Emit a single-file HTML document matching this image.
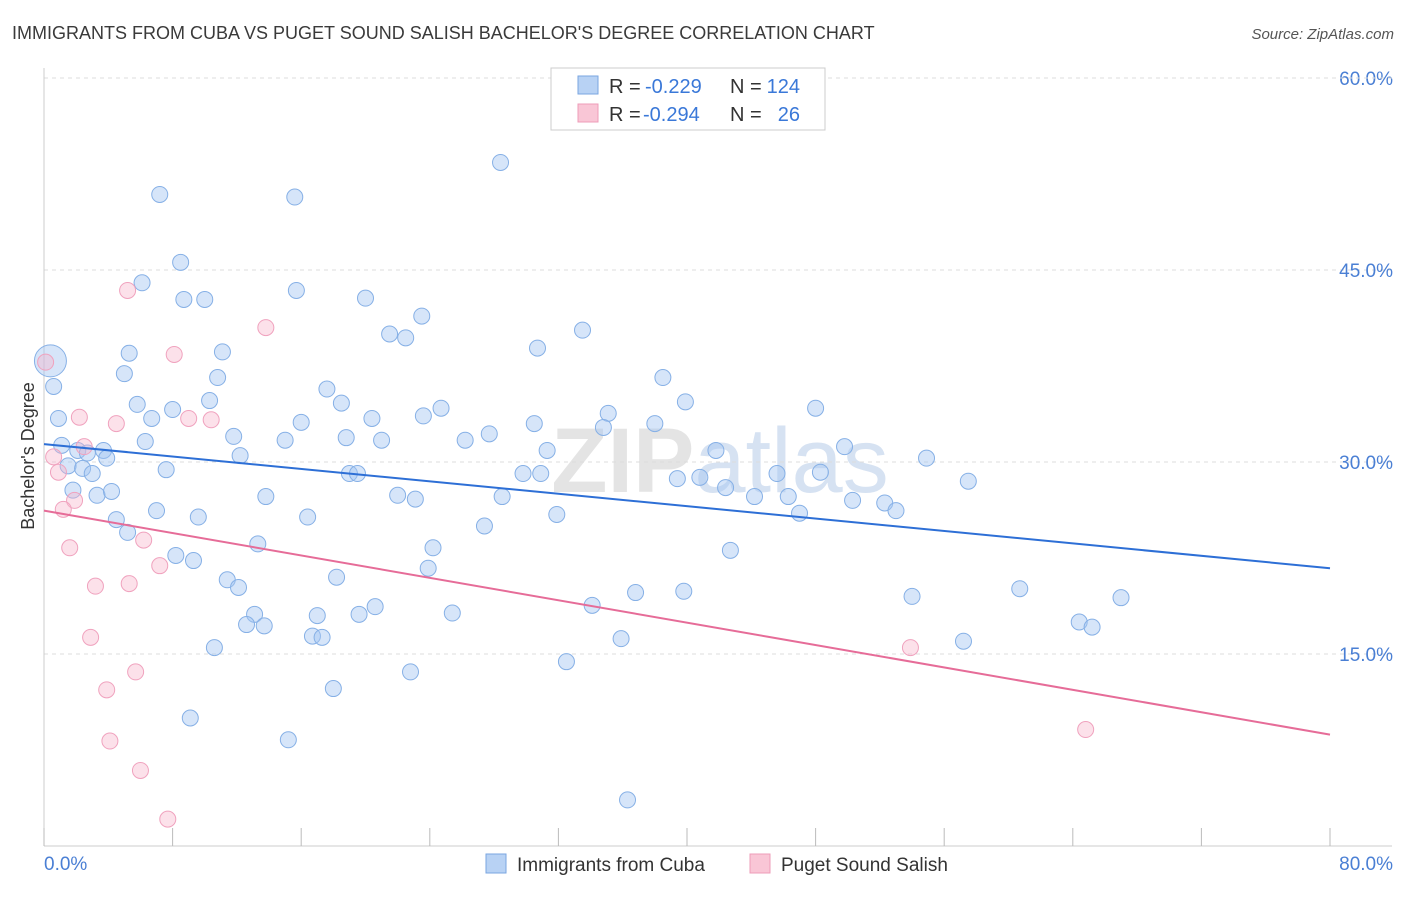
<!DOCTYPE html>
<html><head><meta charset="utf-8"><style>
body{margin:0;background:#fff;font-family:"Liberation Sans",sans-serif;}
svg text{font-family:"Liberation Sans",sans-serif;}
</style></head><body>
<svg id="chart" width="1406" height="892" xmlns="http://www.w3.org/2000/svg">
<text x="12" y="39" font-size="18" fill="#3a3a3a">IMMIGRANTS FROM CUBA VS PUGET SOUND SALISH BACHELOR'S DEGREE CORRELATION CHART</text>
<text x="1394" y="39" font-size="15" fill="#555" font-style="italic" text-anchor="end">Source: ZipAtlas.com</text>
<text x="720" y="492" font-size="92" fill="#e4e4e4" text-anchor="middle" font-weight="bold">ZIP<tspan fill="#d6e2f2" font-weight="normal">atlas</tspan></text>
<g id="grid"></g>
<g id="axes"></g>
<g id="pts"></g>
<g id="lines"></g>
<text transform="translate(34,456) rotate(-90)" font-size="18" fill="#333" text-anchor="middle">Bachelor's Degree</text>
<g>
<rect x="551" y="68" width="274" height="62" fill="#fff" stroke="#ccc"/>
<rect x="578" y="76" width="20" height="18" fill="#b8d2f4" stroke="#7aa6e0"/>
<rect x="578" y="104" width="20" height="18" fill="#f9c6d6" stroke="#ee9cb8"/>
<text x="609" y="93" font-size="20" fill="#333">R =</text>
<text x="645" y="93" font-size="20" fill="#3a78d8">-0.229</text>
<text x="730" y="93" font-size="20" fill="#333">N =</text>
<text x="800" y="93" font-size="20" fill="#3a78d8" text-anchor="end">124</text>
<text x="609" y="121" font-size="20" fill="#333">R =</text>
<text x="643" y="121" font-size="20" fill="#3a78d8">-0.294</text>
<text x="730" y="121" font-size="20" fill="#333">N =</text>
<text x="800" y="121" font-size="20" fill="#3a78d8" text-anchor="end">26</text>
</g>
<g>
<rect x="486" y="854" width="20" height="19" fill="#b8d2f4" stroke="#7aa6e0"/>
<text x="517" y="871" font-size="19" fill="#333">Immigrants from Cuba</text>
<rect x="750" y="854" width="20" height="19" fill="#f9c6d6" stroke="#ee9cb8"/>
<text x="781" y="871" font-size="19" fill="#333">Puget Sound Salish</text>
</g>
</svg>
<script>
const cubaX=[28.4,7.2,15.6,8.5,6.1,8.7,10.0,15.7,20.0,23.5,21.5,22.5,33.5,30.7,5.3,11.1,0.4,5.0,10.8,0.6,17.6,38.5,10.3,5.8,18.5,24.7,39.9,48.0,0.9,6.7,8.0,16.0,20.4,23.6,35.1,30.5,38.0,34.8,11.8,6.3,15.0,18.8,21.0,27.7,26.2,1.1,2.1,3.7,2.7,3.9,12.2,31.3,41.8,49.8,54.9,1.5,2.4,3.0,7.6,19.0,19.5,29.8,30.9,39.4,40.8,45.6,48.3,57.5,1.8,3.3,4.2,13.8,22.0,23.1,28.5,42.4,44.2,46.3,50.3,52.3,53.0,7.0,9.6,16.4,31.9,47.0,4.5,5.2,27.4,13.3,24.2,42.7,8.2,9.3,11.4,12.1,18.2,23.9,36.8,39.8,54.0,60.7,67.0,34.1,20.6,13.1,17.0,19.6,25.4,12.6,13.7,16.7,17.3,64.4,65.2,10.6,35.9,57.2,32.5,22.8,18.0,9.1,15.2,36.3];
const cubaY=[53.4,50.9,50.7,45.6,44.0,42.7,42.7,43.4,42.8,41.4,40.0,39.7,40.3,38.9,38.5,38.6,37.9,36.9,36.6,35.9,35.7,36.6,34.8,34.5,34.6,34.2,34.7,34.2,33.4,33.4,34.1,33.1,33.4,33.6,33.8,33.0,33.0,32.7,32.0,31.6,31.7,31.9,31.7,32.2,31.7,31.3,30.9,30.9,30.7,30.3,30.5,30.9,30.9,31.2,30.3,29.7,29.5,29.1,29.4,29.1,29.1,29.1,29.1,28.7,28.8,29.1,29.2,28.5,27.8,27.4,27.7,27.3,27.4,27.1,27.3,28.0,27.3,27.3,27.0,26.8,26.2,26.2,25.7,25.7,25.9,26.0,25.5,24.5,25.0,23.6,23.3,23.1,22.7,22.3,20.8,20.2,21.0,21.7,19.8,19.9,19.5,20.1,19.4,18.8,18.7,18.1,18.0,18.1,18.2,17.3,17.2,16.4,16.3,17.5,17.1,15.5,16.2,16.0,14.4,13.6,12.3,10.0,8.3,3.6];
const salishX=[5.2,13.8,8.1,0.1,2.2,9.0,10.4,4.5,2.5,0.6,0.9,1.9,1.2,6.2,1.6,7.2,5.3,3.2,2.9,5.7,3.9,4.1,6.0,7.7,53.9,64.8];
const salishY=[43.4,40.5,38.4,37.8,33.5,33.4,33.3,33.0,31.2,30.4,29.2,27.0,26.3,23.9,23.3,21.9,20.5,20.3,16.3,13.6,12.2,8.2,5.9,2.1,15.5,9.1];
const trendCuba=[31.4,21.7];
const trendSalish=[26.2,8.7];
const yTicks=[15,30,45,60];
const yTickLabels=["15.0%","30.0%","45.0%","60.0%"];
const xTicks=[0,8,16,24,32,40,48,56,64,72,80];
const NS="http://www.w3.org/2000/svg";
const sx=v=>44+v*1286/80;
const sy=v=>846-v*768/60;
function mk(tag,attrs,parent){const e=document.createElementNS(NS,tag);for(const k in attrs)e.setAttribute(k,attrs[k]);document.getElementById(parent).appendChild(e);return e;}
yTicks.forEach((t,i)=>{
 const g=mk('line',{x1:44,x2:1392,y1:sy(t),y2:sy(t),stroke:'#dcdcdc','stroke-dasharray':'4,4'},'grid');
 
 
 const l=mk('text',{x:1393,y:sy(t)+7,'font-size':19,fill:'#4a7fd4','text-anchor':'end'},'grid');
 l.textContent=yTickLabels[i];
 
 
});
const topGrid=mk('line',{x1:44,x2:1392,y1:78,y2:78,stroke:'#dcdcdc','stroke-dasharray':'4,4'},'grid');


const ya=mk('line',{x1:44,x2:44,y1:68,y2:846,stroke:'#ccc'},'axes');


const xa=mk('line',{x1:44,x2:1392,y1:846,y2:846,stroke:'#ccc'},'axes');


xTicks.forEach(t=>{
 const tk=mk('line',{x1:sx(t),x2:sx(t),y1:828,y2:846,stroke:'#bbb'},'axes');
 
 
});
const xl0=mk('text',{x:44,y:870,'font-size':19,fill:'#4a7fd4'},'axes');
xl0.textContent=xTicks[0].toFixed(1)+'%';


const xl1=mk('text',{x:1393,y:870,'font-size':19,fill:'#4a7fd4','text-anchor':'end'},'axes');
xl1.textContent=xTicks[xTicks.length-1].toFixed(1)+'%';


cubaX.forEach((x,i)=>{
 const big=i===16;
 const c=mk('circle',{cx:sx(x),cy:sy(cubaY[i]),r:big?16:8,fill:'rgba(164,198,242,0.45)',stroke:'#86b0e6','stroke-width':1},'pts');
 
 
});
salishX.forEach((x,i)=>{
 const c=mk('circle',{cx:sx(x),cy:sy(salishY[i]),r:8,fill:'rgba(247,180,202,0.4)',stroke:'#f0a2be','stroke-width':1},'pts');
 
 
});
const l1=mk('line',{x1:sx(0),y1:sy(trendCuba[0]),x2:sx(80),y2:sy(trendCuba[1]),stroke:'#2d6fd6','stroke-width':2},'lines');


const l2=mk('line',{x1:sx(0),y1:sy(trendSalish[0]),x2:sx(80),y2:sy(trendSalish[1]),stroke:'#e66c98','stroke-width':2},'lines');


</script>
</body></html>
